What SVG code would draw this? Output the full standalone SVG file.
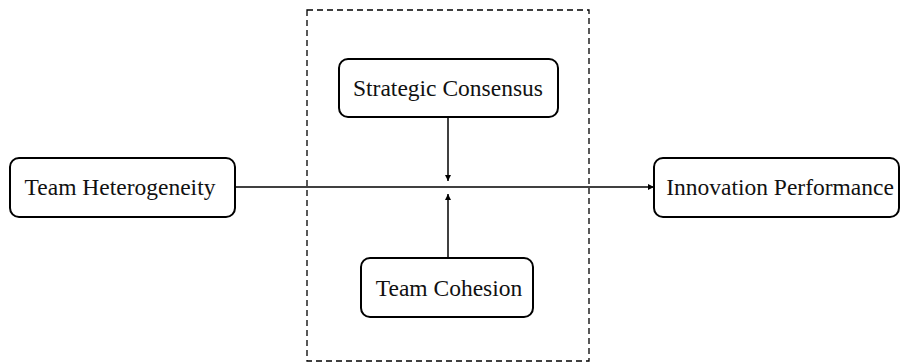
<svg xmlns="http://www.w3.org/2000/svg" width="901" height="363" viewBox="0 0 901 363">
<style>
.node rect{fill:#fff;stroke:#000;stroke-width:2}
.node text{font-family:"Liberation Serif","Times New Roman",serif;font-size:23.5px;fill:#111;text-anchor:middle;dominant-baseline:central}
.conn{stroke:#000;stroke-width:1.5;fill:none}
</style>
<defs>
<marker id="arr" viewBox="0 0 10 10" refX="10" refY="5" markerWidth="6" markerHeight="6" markerUnits="userSpaceOnUse" orient="auto">
<path d="M0,0 L10,5 L0,10 z" fill="#000"/>
</marker>
</defs>
<rect x="307" y="10" width="282" height="351" fill="none" stroke="#000" stroke-width="1.3" stroke-dasharray="6,4"/>
<g id="connectors">
<line class="conn" x1="235" y1="187" x2="654" y2="187" marker-end="url(#arr)"/>
<line class="conn" x1="448" y1="117" x2="448" y2="181" marker-end="url(#arr)"/>
<line class="conn" x1="448" y1="258" x2="448" y2="194" marker-end="url(#arr)"/>
</g>
<g id="team-heterogeneity" class="node">
<rect x="10" y="158" width="225" height="59" rx="9"/>
<text x="120" y="187">Team Heterogeneity</text>
</g>
<g id="innovation-performance" class="node">
<rect x="654" y="158" width="245" height="59" rx="9"/>
<text x="780" y="187">Innovation Performance</text>
</g>
<g id="strategic-consensus" class="node">
<rect x="339" y="59" width="219" height="58" rx="9"/>
<text x="448" y="88">Strategic Consensus</text>
</g>
<g id="team-cohesion" class="node">
<rect x="361" y="258" width="172" height="59" rx="9"/>
<text x="449" y="288">Team Cohesion</text>
</g>
</svg>
